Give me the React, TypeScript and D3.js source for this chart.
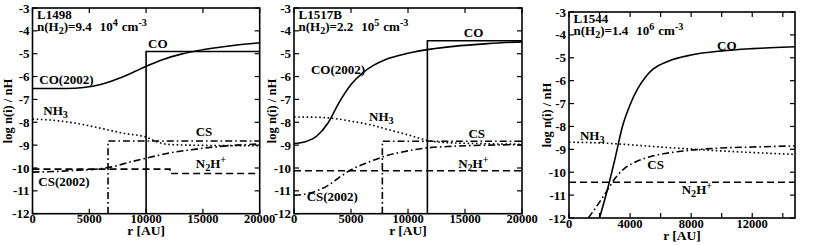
import React from "react";
import * as d3 from "d3";

type Pt = [number, number];

// ---- data: [r (AU), log n(i)/nH] ----
// L1498
const l1498Co2002: Pt[] = [[0, -6.52], [3000, -6.52], [4500, -6.48], [6000, -6.35], [7500, -6.1], [9000, -5.78], [10000, -5.55], [11500, -5.25], [13000, -5.03], [14500, -4.87], [16000, -4.75], [18000, -4.62], [20000, -4.52]];
const l1498CoStep: Pt[] = [[10000, -12], [10000, -4.9], [20000, -4.9]];
const l1498Nh3: Pt[] = [[0, -7.86], [2000, -7.92], [4000, -8.06], [6000, -8.26], [8000, -8.48], [10000, -8.65], [11000, -8.86], [12000, -8.97], [15000, -9.01], [20000, -9.03]];
const l1498CsStep: Pt[] = [[6650, -12], [6650, -8.82], [20000, -8.82]];
const l1498Cs2002: Pt[] = [[0, -10.18], [2000, -10.15], [4000, -10.1], [6000, -10.03], [7000, -9.95], [8500, -9.75], [10000, -9.57], [12000, -9.35], [14000, -9.2], [16000, -9.08], [18000, -9.0], [20000, -8.95]];
const l1498N2hp: Pt[] = [[0, -10.05], [12100, -10.05], [12100, -10.24], [20000, -10.24]];

// L1517B
const l1517Co2002: Pt[] = [[0, -8.93], [1000, -8.85], [2000, -8.6], [3000, -8.02], [4000, -7.1], [5000, -6.35], [6000, -5.85], [7000, -5.5], [8000, -5.26], [10000, -4.98], [12000, -4.8], [14000, -4.68], [17000, -4.56], [20000, -4.48]];
const l1517CoStep: Pt[] = [[11700, -12], [11700, -4.43], [20000, -4.43]];
const l1517Nh3: Pt[] = [[0, -7.77], [2000, -7.78], [3600, -7.84], [5000, -7.95], [6800, -8.12], [8500, -8.35], [10000, -8.55], [11700, -8.79], [13000, -8.88], [16000, -8.93], [20000, -8.96]];
const l1517CsStep: Pt[] = [[7750, -12], [7750, -8.83], [20000, -8.83]];
const l1517Cs2002: Pt[] = [[0, -11.2], [1500, -11.08], [3000, -10.76], [4000, -10.4], [5000, -10.08], [6500, -9.75], [8000, -9.48], [10000, -9.25], [11700, -9.12], [14000, -9.05], [17000, -9.0], [20000, -8.98]];
const l1517N2hp: Pt[] = [[0, -10.12], [20000, -10.12]];

// L1544
const l1544Co: Pt[] = [[2000, -12], [2500, -10.8], [3000, -9.45], [3500, -8.0], [4000, -7.05], [4500, -6.35], [5000, -5.85], [5500, -5.5], [6500, -5.15], [8000, -4.88], [10000, -4.7], [12000, -4.6], [14800, -4.52]];
const l1544Nh3: Pt[] = [[0, -8.69], [2000, -8.72], [4000, -8.8], [6000, -8.9], [8000, -8.99], [10000, -9.07], [12000, -9.14], [14800, -9.22]];
const l1544Cs: Pt[] = [[1265, -12], [1800, -11.5], [2400, -10.9], [3100, -10.2], [3600, -9.85], [4200, -9.6], [5300, -9.32], [6400, -9.17], [7500, -9.07], [9700, -8.95], [12000, -8.9], [14800, -8.85]];
const l1544N2hp: Pt[] = [[0, -10.44], [14800, -10.44]];

const yTicks = [-12, -11, -10, -9, -8, -7, -6, -5, -4, -3];
const xTicks20k = [0, 5000, 10000, 15000, 20000];
const xTicksL1544 = [0, 4000, 8000, 12000];
const xMinorL1544 = [2000, 6000, 10000, 14000];

const FONT = "'Liberation Serif', 'Times New Roman', serif";
const SOLID = "";
const DOT = "1.6 2.6";
const DASH = "7 4";
const DASHDOT = "7 3 1.6 3";

// text parts: [text, shift] shift 1 = superscript, -1 = subscript; leading space adds a gap
type Part = [string, number];
type Label = { parts: Part[]; r: number; v: number };
type Series = { pts: Pt[]; dash: string; smooth: boolean };
type PanelDef = {
  name: string; dens: string; exp: string;
  left: number; right: number; top: number; bottom: number;
  rMax: number; xTicks: number[]; xMinor: number[]; titleX: number; titleY: number;
  series: Series[]; labels: Label[];
};

const nh3: Part[] = [["NH", 0], ["3", -1]];
const n2hp: Part[] = [["N", 0], ["2", -1], ["H", 0], ["+", 1]];

const panels: PanelDef[] = [
  {
    name: "L1498", dens: "9.4", exp: "4",
    left: 32.5, right: 259.7, top: 8, bottom: 213.7, rMax: 20000,
    xTicks: xTicks20k, xMinor: [], titleX: 12, titleY: 111,
    series: [
      { pts: l1498Co2002, dash: SOLID, smooth: true },
      { pts: l1498CoStep, dash: SOLID, smooth: false },
      { pts: l1498Nh3, dash: DOT, smooth: true },
      { pts: l1498CsStep, dash: DASHDOT, smooth: false },
      { pts: l1498Cs2002, dash: DASHDOT, smooth: true },
      { pts: l1498N2hp, dash: DASH, smooth: false },
    ],
    labels: [
      { parts: [["CO", 0]], r: 10170, v: -4.74 },
      { parts: [["CO(2002)", 0]], r: 600, v: -6.32 },
      { parts: nh3, r: 950, v: -7.68 },
      { parts: [["CS", 0]], r: 14370, v: -8.6 },
      { parts: n2hp, r: 14370, v: -10.0 },
      { parts: [["CS(2002)", 0]], r: 510, v: -10.77 },
    ],
  },
  {
    name: "L1517B", dens: "2.2", exp: "5",
    left: 294, right: 522, top: 8, bottom: 213.7, rMax: 20000,
    xTicks: xTicks20k, xMinor: [], titleX: 276, titleY: 111,
    series: [
      { pts: l1517Co2002, dash: SOLID, smooth: true },
      { pts: l1517CoStep, dash: SOLID, smooth: false },
      { pts: l1517Nh3, dash: DOT, smooth: true },
      { pts: l1517CsStep, dash: DASHDOT, smooth: false },
      { pts: l1517Cs2002, dash: DASHDOT, smooth: true },
      { pts: l1517N2hp, dash: DASH, smooth: false },
    ],
    labels: [
      { parts: [["CO", 0]], r: 14900, v: -4.28 },
      { parts: [["CO(2002)", 0]], r: 1490, v: -5.89 },
      { parts: nh3, r: 6580, v: -7.94 },
      { parts: [["CS", 0]], r: 15300, v: -8.7 },
      { parts: n2hp, r: 14400, v: -10.0 },
      { parts: [["CS(2002)", 0]], r: 1110, v: -11.44 },
    ],
  },
  {
    name: "L1544", dens: "1.4", exp: "6",
    left: 569, right: 795, top: 12, bottom: 218, rMax: 14800,
    xTicks: xTicksL1544, xMinor: xMinorL1544, titleX: 551, titleY: 115,
    series: [
      { pts: l1544Co, dash: SOLID, smooth: true },
      { pts: l1544Nh3, dash: DOT, smooth: true },
      { pts: l1544Cs, dash: DASHDOT, smooth: true },
      { pts: l1544N2hp, dash: DASH, smooth: false },
    ],
    labels: [
      { parts: [["CO", 0]], r: 9700, v: -4.66 },
      { parts: nh3, r: 720, v: -8.59 },
      { parts: [["CS", 0]], r: 5130, v: -9.86 },
      { parts: n2hp, r: 7380, v: -10.95 },
    ],
  },
];

function Rich({ parts, x, y, size = 13 }: { parts: Part[]; x: number; y: number; size?: number }) {
  let cur = 0;
  return (
    <text x={x} y={y} fontSize={size} fontWeight="bold" fontFamily={FONT}>
      {parts.map(([t, s], i) => {
        const target = s === 1 ? -4.5 : s === -1 ? 3 : 0;
        const dy = target - cur;
        cur = target;
        const gap = t.startsWith("  ") ? 8 : t.startsWith(" ") ? 4 : 0;
        return (
          <tspan key={i} dy={dy} dx={gap} fontSize={s === 0 ? size : size * 0.78}>
            {t.trim()}
          </tspan>
        );
      })}
    </text>
  );
}

function Panel({ p, idx }: { p: PanelDef; idx: number }) {
  const x = d3.scaleLinear().domain([0, p.rMax]).range([p.left, p.right]);
  const y = d3.scaleLinear().domain([-12, -3]).range([p.bottom, p.top]);
  const clipId = `clip-${idx}`;
  const tk = 5;
  const mkLine = (smooth: boolean) =>
    d3.line<Pt>().x(d => x(d[0])).y(d => y(d[1])).curve(smooth ? d3.curveMonotoneX : d3.curveLinear);

  const densParts: Part[] = [["n(H", 0], ["2", -1], [`)=${p.dens}`, 0], ["  10", 0], [p.exp, 1], [" cm", 0], ["-3", 1]];

  return (
    <g>
      <clipPath id={clipId}>
        <rect x={p.left} y={p.top} width={p.right - p.left} height={p.bottom - p.top} />
      </clipPath>
      <g clipPath={`url(#${clipId})`}>
        {p.series.map((s, i) => (
          <path key={i} d={mkLine(s.smooth)(s.pts) || ""} fill="none" stroke="#000"
            strokeWidth={1.6} strokeDasharray={s.dash || undefined} />
        ))}
      </g>
      <rect x={p.left} y={p.top} width={p.right - p.left} height={p.bottom - p.top}
        fill="none" stroke="#000" strokeWidth={1.6} />
      {/* y ticks */}
      {yTicks.map(t => (
        <g key={`y${t}`}>
          <line x1={p.left} x2={p.left + tk} y1={y(t)} y2={y(t)} stroke="#000" strokeWidth={1.2} />
          <line x1={p.right} x2={p.right - tk} y1={y(t)} y2={y(t)} stroke="#000" strokeWidth={1.2} />
          <text x={p.left - 3} y={y(t)} dy="0.35em" textAnchor="end" fontSize={13}
            fontWeight="bold" fontFamily={FONT}>{t}</text>
        </g>
      ))}
      {/* x ticks */}
      {[...p.xTicks, ...p.xMinor].map(t => (
        <g key={`x${t}`}>
          <line x1={x(t)} x2={x(t)} y1={p.bottom} y2={p.bottom - tk} stroke="#000" strokeWidth={1.2} />
          <line x1={x(t)} x2={x(t)} y1={p.top} y2={p.top + tk} stroke="#000" strokeWidth={1.2} />
        </g>
      ))}
      {p.xTicks.map(t => (
        <text key={`xl${t}`} x={x(t)} y={p.bottom + 9.5} textAnchor="middle" fontSize={12.5}
          fontWeight="bold" fontFamily={FONT}>{t}</text>
      ))}
      <text x={(p.left + p.right) / 2} y={p.bottom + 21.5} textAnchor="middle" fontSize={13.5}
        fontWeight="bold" fontFamily={FONT}>r [AU]</text>
      <text transform={`translate(${p.titleX},${p.titleY}) rotate(-90)`} textAnchor="middle"
        fontSize={12.5} fontWeight="bold" fontFamily={FONT}>log n(i) / nH</text>
      {/* header */}
      <Rich parts={[[p.name, 0]]} x={p.left + 4.5} y={p.top + 10.5} />
      <Rich parts={densParts} x={p.left + 4.5} y={p.top + 22.5} />
      {p.labels.map((l, i) => (
        <Rich key={i} parts={l.parts} x={x(l.r)} y={y(l.v)} />
      ))}
    </g>
  );
}

export default function App() {
  return (
    <div style={{ position: "absolute", left: 0, top: 0 }}>
      <svg width={831} height={245} style={{ display: "block" }}>
        <rect width={831} height={245} fill="#fff" />
        {panels.map((p, i) => <Panel key={p.name} p={p} idx={i} />)}
      </svg>
    </div>
  );
}
